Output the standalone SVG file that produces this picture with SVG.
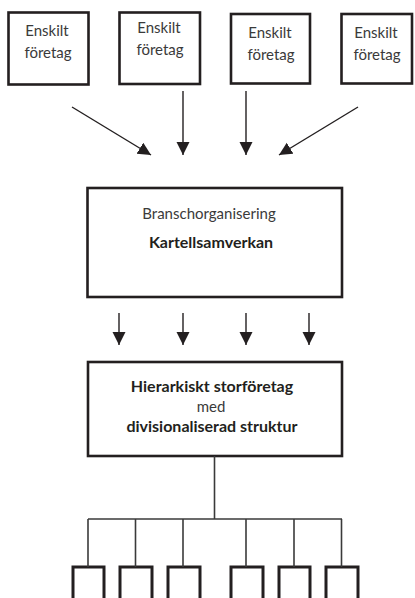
<svg xmlns="http://www.w3.org/2000/svg" width="415" height="598" viewBox="0 0 415 598">
<style>
  .box { fill: #fff; stroke: #231f20; stroke-width: 2.6; }
  .sbox { fill: #fff; stroke: #231f20; stroke-width: 3; }
  .t { font-family: Lato, "Noto Sans", "Liberation Sans", sans-serif; font-size: 15px; fill: #3a3a3a; text-anchor: middle; }
  .b { font-weight: bold; font-size: 16px; fill: #231f20; }
  .c { stroke: #231f20; stroke-width: 1.4; fill: none; }
  .tree { stroke: #3a3a3a; stroke-width: 1.6; fill: none; }
</style>
<defs>
  <marker id="ah" markerUnits="userSpaceOnUse" markerWidth="14" markerHeight="14" refX="13" refY="6.5" orient="auto" viewBox="0 0 14 14">
    <path d="M0,0 L13,6.5 L0,13 Z" fill="#231f20"/>
  </marker>
</defs>
<rect width="415" height="598" fill="#fff"/>

<g id="n1">
  <rect class="box" x="8.5" y="12.5" width="80" height="72"/>
  <text class="t" x="47" y="36">Enskilt</text>
  <text class="t" x="48" y="58">företag</text>
</g>
<g id="n2">
  <rect class="box" x="119.5" y="12.5" width="80.5" height="71.5"/>
  <text class="t" x="159" y="33">Enskilt</text>
  <text class="t" x="160" y="55">företag</text>
</g>
<g id="n3">
  <rect class="box" x="231" y="14" width="79" height="69.5"/>
  <text class="t" x="270" y="38">Enskilt</text>
  <text class="t" x="271" y="60">företag</text>
</g>
<g id="n4">
  <rect class="box" x="341.5" y="14" width="70.5" height="69.5"/>
  <text class="t" x="376" y="38">Enskilt</text>
  <text class="t" x="377" y="60">företag</text>
</g>

<g id="n5">
  <rect class="box" x="87.5" y="188" width="254.5" height="109"/>
  <text class="t" x="209" y="219">Branschorganisering</text>
  <text class="t b" x="211" y="248">Kartellsamverkan</text>
</g>

<g id="n6">
  <rect class="box" x="88" y="362" width="254" height="94"/>
  <text class="t b" x="212" y="392">Hierarkiskt storföretag</text>
  <text class="t" x="211" y="412">med</text>
  <text class="t b" x="212" y="432">divisionaliserad struktur</text>
</g>

<g id="d1"><rect class="sbox" x="73" y="567" width="31" height="40"/></g>
<g id="d2"><rect class="sbox" x="120" y="567" width="32" height="40"/></g>
<g id="d3"><rect class="sbox" x="168" y="567" width="32" height="40"/></g>
<g id="d4"><rect class="sbox" x="231" y="567" width="32" height="40"/></g>
<g id="d5"><rect class="sbox" x="279" y="567" width="31" height="40"/></g>
<g id="d6"><rect class="sbox" x="326" y="567" width="32" height="40"/></g>

<g id="connectors">
  <line class="c" x1="72" y1="107" x2="151" y2="155" marker-end="url(#ah)"/>
  <line class="c" x1="183" y1="91" x2="183" y2="155" marker-end="url(#ah)"/>
  <line class="c" x1="246" y1="91" x2="246" y2="155" marker-end="url(#ah)"/>
  <line class="c" x1="358" y1="107" x2="279" y2="155" marker-end="url(#ah)"/>

  <line class="c" x1="119" y1="313" x2="119" y2="345" marker-end="url(#ah)"/>
  <line class="c" x1="183" y1="313" x2="183" y2="345" marker-end="url(#ah)"/>
  <line class="c" x1="246" y1="313" x2="246" y2="345" marker-end="url(#ah)"/>
  <line class="c" x1="309" y1="313" x2="309" y2="345" marker-end="url(#ah)"/>

  <line class="tree" x1="214.5" y1="456" x2="214.5" y2="519"/>
  <line class="tree" x1="88" y1="519" x2="342" y2="519"/>
  <line class="tree" x1="88" y1="519" x2="88" y2="567"/>
  <line class="tree" x1="135.5" y1="519" x2="135.5" y2="567"/>
  <line class="tree" x1="183" y1="519" x2="183" y2="567"/>
  <line class="tree" x1="246" y1="519" x2="246" y2="567"/>
  <line class="tree" x1="294" y1="519" x2="294" y2="567"/>
  <line class="tree" x1="341.5" y1="519" x2="341.5" y2="567"/>
</g>
</svg>
